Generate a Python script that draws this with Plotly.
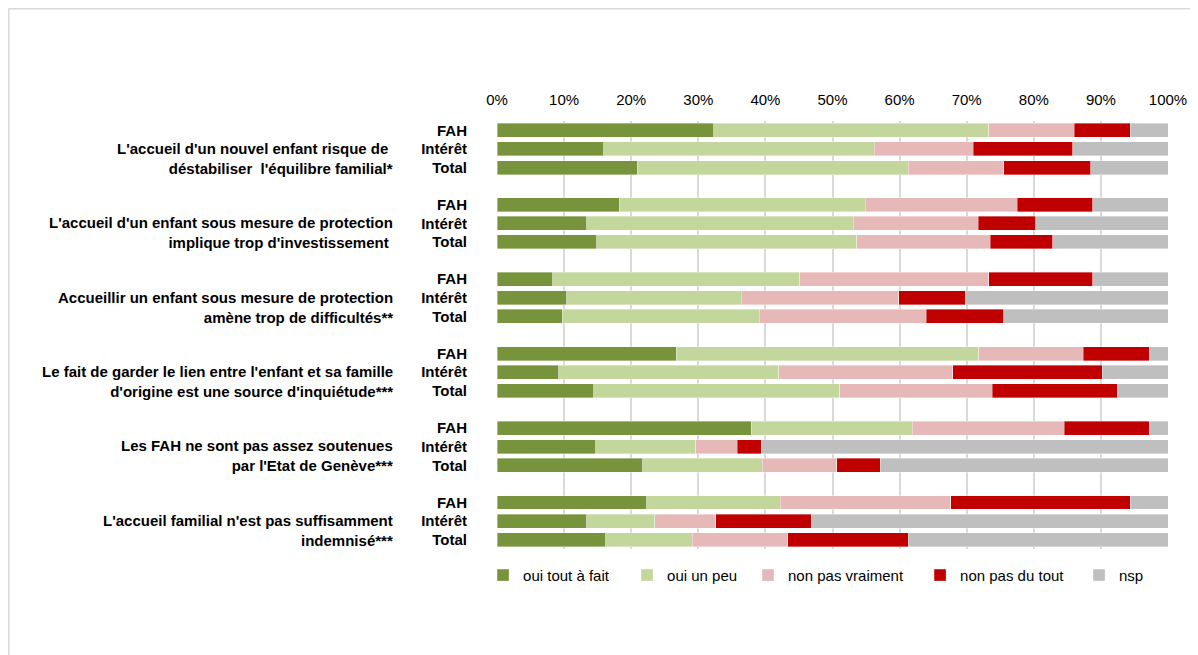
import plotly.graph_objects as go

# ---- data ----
statements = [
    "L'accueil d'un nouvel enfant risque de <br>déstabiliser  l'équilibre familial*",
    "L'accueil d'un enfant sous mesure de protection<br>implique trop d'investissement ",
    "Accueillir un enfant sous mesure de protection<br>amène trop de difficultés**",
    "Le fait de garder le lien entre l'enfant et sa famille<br>d'origine est une source d'inquiétude***",
    "Les FAH ne sont pas assez soutenues<br>par l'Etat de Genève***",
    "L'accueil familial n'est pas suffisamment<br>indemnisé***",
]
groups = ["FAH", "Intérêt", "Total"]
x_ticks = [0, 10, 20, 30, 40, 50, 60, 70, 80, 90, 100]

# values per statement, in order FAH, Intérêt, Total
oui_tout_a_fait = [32.3, 15.9, 20.9,  18.2, 13.4, 14.9,  8.3, 10.4, 9.7,
                   26.7, 9.2, 14.4,  37.9, 14.7, 21.7,  22.3, 13.4, 16.2]
oui_un_peu = [41.0, 40.3, 40.4,  36.7, 39.7, 38.7,  36.8, 26.0, 29.4,
              45.1, 32.8, 36.7,  24.0, 14.9, 17.8,  19.9, 10.1, 12.9]
non_pas_vraiment = [12.7, 14.8, 14.2,  22.6, 18.6, 19.9,  28.2, 23.5, 24.9,
                    15.6, 25.9, 22.7,  22.6, 6.2, 11.1,  25.4, 9.1, 14.2]
non_pas_du_tout = [8.4, 14.8, 13.0,  11.3, 8.6, 9.3,  15.5, 9.9, 11.5,
                   9.8, 22.3, 18.6,  12.7, 3.6, 6.5,  26.8, 14.2, 18.0]
nsp = [5.6, 14.2, 11.5,  11.2, 19.7, 17.2,  11.2, 30.2, 24.5,
       2.8, 9.8, 7.6,  2.8, 60.6, 42.9,  5.6, 53.2, 38.7]

series_names = ["oui tout à fait", "oui un peu", "non pas vraiment", "non pas du tout", "nsp"]
series_values = [oui_tout_a_fait, oui_un_peu, non_pas_vraiment, non_pas_du_tout, nsp]
series_colors = ["#77933C", "#C3D69B", "#E6B9B8", "#C00000", "#BFBFBF"]

# ---- positions: 3 rows per statement + 1 gap row ----
positions = []
tick_text = []
for g in range(len(statements)):
    for r, name in enumerate(groups):
        positions.append(g * 4 + r)
        tick_text.append("<b>" + name + "</b>")

FONT = "Liberation Sans, Arial, sans-serif"
legend_ids = ["legend", "legend2", "legend3", "legend4", "legend5"]
legend_x = [-0.0208, 0.1938, 0.3741, 0.6305, 0.8674]

fig = go.Figure()
for name, vals, col, lid in zip(series_names, series_values, series_colors, legend_ids):
    fig.add_trace(go.Bar(
        x=vals, y=positions, orientation="h", name=name, legend=lid,
        showlegend=True,
        marker=dict(color=col, line=dict(color="rgba(255,255,255,0.6)", width=0.6)),
        width=0.75, hoverinfo="x+name",
    ))

annotations = []
for g, s in enumerate(statements):
    annotations.append(dict(
        text="<b>" + s + "</b>", x=-0.152, xref="paper", xanchor="right",
        y=g * 4 + 1.5, yref="y", yanchor="middle", align="right", showarrow=False,
        font=dict(family=FONT, size=15, color="#000000"),
    ))

legends = {}
for lid, lx in zip(legend_ids, legend_x):
    legends[lid] = dict(
        orientation="h", x=lx, xanchor="left", y=-0.023, yanchor="top",
        font=dict(family=FONT, size=15, color="#000000"),
        itemwidth=30, bgcolor="rgba(0,0,0,0)", visible=True,
    )

fig.update_layout(
    barmode="stack",
    showlegend=True,
    width=1190, height=647,
    margin=dict(l=489, r=30, t=113, b=106),
    paper_bgcolor="white", plot_bgcolor="white",
    font=dict(family=FONT, size=15, color="#000000"),
    xaxis=dict(
        side="top", range=[0, 100], tickvals=x_ticks,
        ticktext=[f"{v}%" for v in x_ticks],
        showgrid=True, gridcolor="#D9D9D9", gridwidth=1.5,
        zeroline=False, showline=False, ticks="",
        ticklabelstandoff=12,
        tickfont=dict(family=FONT, size=15, color="#000000"),
        fixedrange=True,
    ),
    yaxis=dict(
        tickvals=positions, ticktext=tick_text,
        range=[22.5, -0.5], showgrid=False, zeroline=False, showline=False,
        ticks="", ticklabelstandoff=29,
        tickfont=dict(family=FONT, size=15, color="#000000"),
        fixedrange=True,
    ),
    annotations=annotations,
    shapes=[
        dict(type="line", xref="paper", yref="paper", x0=-0.7277, x1=-0.7277,
             y0=1.2624, y1=-0.3, line=dict(color="#D9D9D9", width=1.5), layer="below"),
        dict(type="line", xref="paper", yref="paper", x0=-0.7277, x1=1.06,
             y0=1.2624, y1=1.2624, line=dict(color="#D9D9D9", width=1.5), layer="below"),
    ],
    **legends,
)

fig.write_html("out.html")
